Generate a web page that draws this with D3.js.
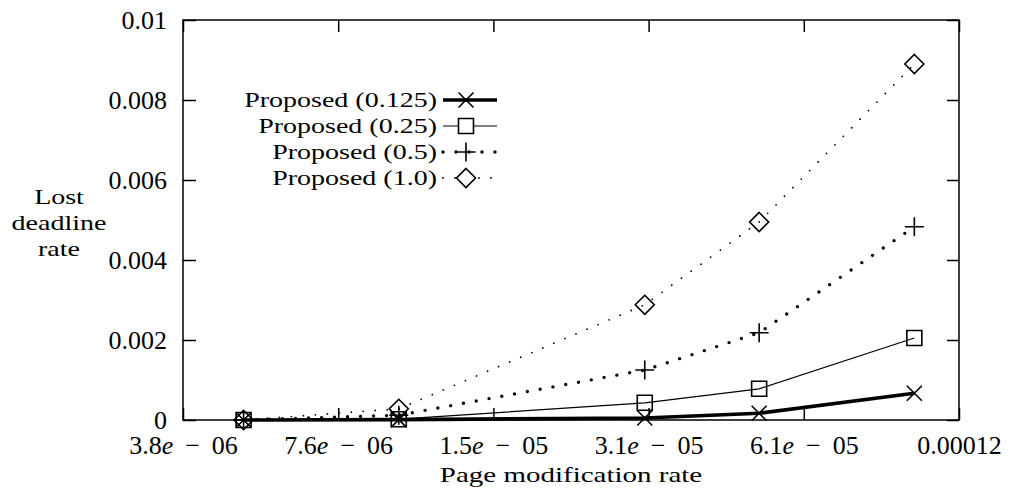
<!DOCTYPE html>
<html>
<head>
<meta charset="utf-8">
<script src="https://cdn.jsdelivr.net/npm/d3@7"></script>
<style>
  html, body { margin: 0; padding: 0; background: #fff; }
  svg { display: block; }
  text { font-family: "Liberation Serif", "Times New Roman", serif; fill: #000; }
</style>
</head>
<body>
<svg id="chart" width="1009" height="490"></svg>
<script>
// ---- data ----
const xValues = [5e-6, 1e-5, 3e-5, 5e-5, 1e-4];
const seriesNames = ["Proposed (0.125)", "Proposed (0.25)", "Proposed (0.5)", "Proposed (1.0)"];
const proposed0125 = [0, 0.00001, 0.00005, 0.00017, 0.00067];
const proposed025  = [0, 0.00002, 0.00043, 0.00078, 0.00205];
const proposed05   = [0, 0.00012, 0.00125, 0.00218, 0.00483];
const proposed10   = [0, 0.00028, 0.00288, 0.00495, 0.0089];
const xTickValues = [Math.pow(2, -18), Math.pow(2, -17), Math.pow(2, -16), Math.pow(2, -15), Math.pow(2, -14), Math.pow(2, -13)];
const xTickLabels = ["3.8e-06", "7.6e-06", "1.5e-05", "3.1e-05", "6.1e-05", "0.00012"];
const yTickValues = [0, 0.002, 0.004, 0.006, 0.008, 0.01];
const yTickLabels = ["0", "0.002", "0.004", "0.006", "0.008", "0.01"];
const xTitle = "Page modification rate";
const yTitleLines = ["Lost", "deadline", "rate"];

// ---- layout ----
const L = 183, R = 959, T = 20, B = 420;
const svg = d3.select("#chart");
const x = d3.scaleLog().base(2).domain([xTickValues[0], xTickValues[xTickValues.length - 1]]).range([L, R]);
const y = d3.scaleLinear().domain([0, 0.01]).range([B, T]);

const allSeries = [proposed0125, proposed025, proposed05, proposed10];
const styles = [
  { width: 3.6, dash: null, cap: "butt", marker: "x" },
  { width: 1.2, dash: null, cap: "butt", marker: "square" },
  { width: 3.4, dash: "0 13", cap: "round", marker: "plus" },
  { width: 1.8, dash: "0 12", cap: "round", marker: "diamond" }
];

function markerPath(type, cx, cy) {
  if (type === "x") { const h = 7.5; return `M${cx-h},${cy-h}L${cx+h},${cy+h}M${cx-h},${cy+h}L${cx+h},${cy-h}`; }
  if (type === "square") { const h = 7.5; return `M${cx-h},${cy-h}H${cx+h}V${cy+h}H${cx-h}Z`; }
  if (type === "plus") { const h = 9.5; return `M${cx-h},${cy}H${cx+h}M${cx},${cy-h}V${cy+h}`; }
  const h = 9.5; return `M${cx},${cy-h}L${cx+h},${cy}L${cx},${cy+h}L${cx-h},${cy}Z`;
}

// ---- axes (ticks drawn inward) ----
const fmtX = (d) => xTickLabels[xTickValues.indexOf(d)];
const fmtY = (d) => yTickLabels[yTickValues.indexOf(d)];

const gx = svg.append("g").attr("transform", `translate(0,${B})`)
  .call(d3.axisBottom(x).tickValues(xTickValues).tickFormat(fmtX).tickSize(-12).tickPadding(0));
const gxTop = svg.append("g").attr("transform", `translate(0,${T})`)
  .call(d3.axisTop(x).tickValues(xTickValues).tickFormat("").tickSize(-12));
const gy = svg.append("g").attr("transform", `translate(${L},0)`)
  .call(d3.axisLeft(y).tickValues(yTickValues).tickFormat(fmtY).tickSize(-13).tickPadding(16));
const gyR = svg.append("g").attr("transform", `translate(${R},0)`)
  .call(d3.axisRight(y).tickValues(yTickValues).tickFormat("").tickSize(-12));

[gx, gxTop, gy, gyR].forEach(g => {
  g.select(".domain").remove();
  g.selectAll(".tick line").attr("stroke", "#000").attr("stroke-width", 1.5);
  g.selectAll("text").attr("font-family", null).attr("font-size", null);
  g.attr("font-family", null).attr("font-size", null);
});

gy.selectAll(".tick text").attr("font-size", 26).attr("dy", null).attr("dominant-baseline", "central").attr("x", -16);

// x tick labels with math formatting
gx.selectAll(".tick text").each(function(d) {
  const t = d3.select(this);
  const label = fmtX(d);
  t.text(null).attr("font-size", 26).attr("dy", null).attr("y", 34).attr("text-anchor", "middle");
  if (label.includes("e-")) {
    const [mant, exp] = label.split("e-");
    t.append("tspan").text(mant);
    t.append("tspan").attr("font-style", "italic").text("e");
    t.append("tspan").attr("dx", 12).text("\u2212");
    t.append("tspan").attr("dx", 12).text(exp);
  } else {
    t.text(label);
  }
});

// frame
svg.append("rect").attr("x", L).attr("y", T).attr("width", R - L).attr("height", B - T)
  .attr("fill", "none").attr("stroke", "#000").attr("stroke-width", 1.5);

// ---- series ----
const line = d3.line().x(d => x(d[0])).y(d => y(d[1]));
const plot = svg.append("g");
allSeries.forEach((vals, i) => {
  const pts = xValues.map((xv, j) => [xv, vals[j]]);
  const st = styles[i];
  plot.append("path").attr("d", line(pts)).attr("fill", "none").attr("stroke", "#000")
    .attr("stroke-width", st.width).attr("stroke-linecap", st.cap)
    .attr("stroke-dasharray", st.dash);
  plot.selectAll(null).data(pts).enter().append("path")
    .attr("d", d => markerPath(st.marker, x(d[0]), y(d[1])))
    .attr("fill", "none").attr("stroke", "#000").attr("stroke-width", 1.6);
});

// ---- legend ----
const legBase = [107, 133, 159, 185];
const legend = svg.append("g");
seriesNames.forEach((name, i) => {
  const by = legBase[i];
  legend.append("text").attr("transform", `translate(437,${by}) scale(1,0.74)`)
    .attr("text-anchor", "end").attr("font-size", 28).text(name);
  const ly = by - 7;
  const st = styles[i];
  legend.append("path").attr("d", `M443,${ly}H497`).attr("fill", "none").attr("stroke", "#000")
    .attr("stroke-width", st.width).attr("stroke-linecap", st.cap).attr("stroke-dasharray", st.dash);
  legend.append("path").attr("d", markerPath(st.marker, 466, ly))
    .attr("fill", i === 0 ? "none" : "#fff").attr("stroke", "#000").attr("stroke-width", 1.6);
});

// ---- titles ----
svg.append("text").attr("transform", `translate(${(L + R) / 2},482) scale(1,0.73)`)
  .attr("text-anchor", "middle").attr("font-size", 29).text(xTitle);
yTitleLines.forEach((s, i) => {
  svg.append("text").attr("transform", `translate(59,${204 + i * 26}) scale(1,0.75)`)
    .attr("text-anchor", "middle").attr("font-size", 28).text(s);
});
</script>
</body>
</html>
